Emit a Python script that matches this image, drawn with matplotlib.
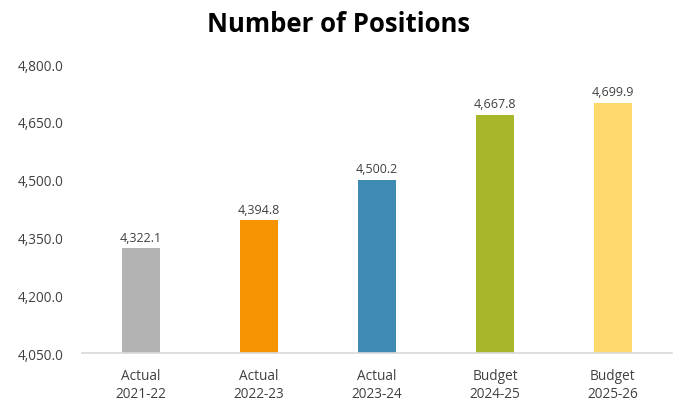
import matplotlib
matplotlib.use("Agg")
import matplotlib.pyplot as plt
from matplotlib.ticker import FuncFormatter

categories = ["Actual\n2021-22", "Actual\n2022-23", "Actual\n2023-24", "Budget\n2024-25", "Budget\n2025-26"]
values = [4322.1, 4394.8, 4500.2, 4667.8, 4699.9]
colors = ["#B3B3B3", "#F59300", "#3F8AB5", "#A8B72A", "#FDD86B"]
yticks = [4050, 4200, 4350, 4500, 4650, 4800]

plt.rcParams['font.family'] = ['Open Sans', 'DejaVu Sans']
txt = "#404040"

fig = plt.figure(figsize=(6.78, 4.02), dpi=100)
ax = fig.add_axes([0.121, 0.119, 0.870, 0.719])

x = range(len(values))
ax.bar(x, [v - yticks[0] for v in values], bottom=yticks[0], width=0.32, color=colors)
for i, v in enumerate(values):
    ax.text(i, v + 12, f"{v:,.1f}", ha="center", va="bottom", fontsize=9, color=txt)

ax.set_xlim(-0.5, len(values) - 0.5)
ax.set_ylim(yticks[0], yticks[-1])
ax.set_yticks(yticks)
ax.yaxis.set_major_formatter(FuncFormatter(lambda v, p: f"{v:,.1f}"))
ax.set_xticks(list(x))
ax.set_xticklabels(categories, linespacing=1.25)
ax.tick_params(axis="y", length=0, pad=13.5, labelsize=9.8, labelcolor=txt)
ax.tick_params(axis="x", length=0, pad=11, labelsize=9.8, labelcolor=txt)
for s in ["top", "right", "left"]:
    ax.spines[s].set_visible(False)
ax.spines["bottom"].set_color("#D9D9D9")
ax.spines["bottom"].set_linewidth(1.2)

fig.text(0.5, 0.94, "Number of Positions", ha="center", va="center",
         fontsize=18.5, fontweight="bold", color="black")

fig.savefig("out.png", dpi=100)
